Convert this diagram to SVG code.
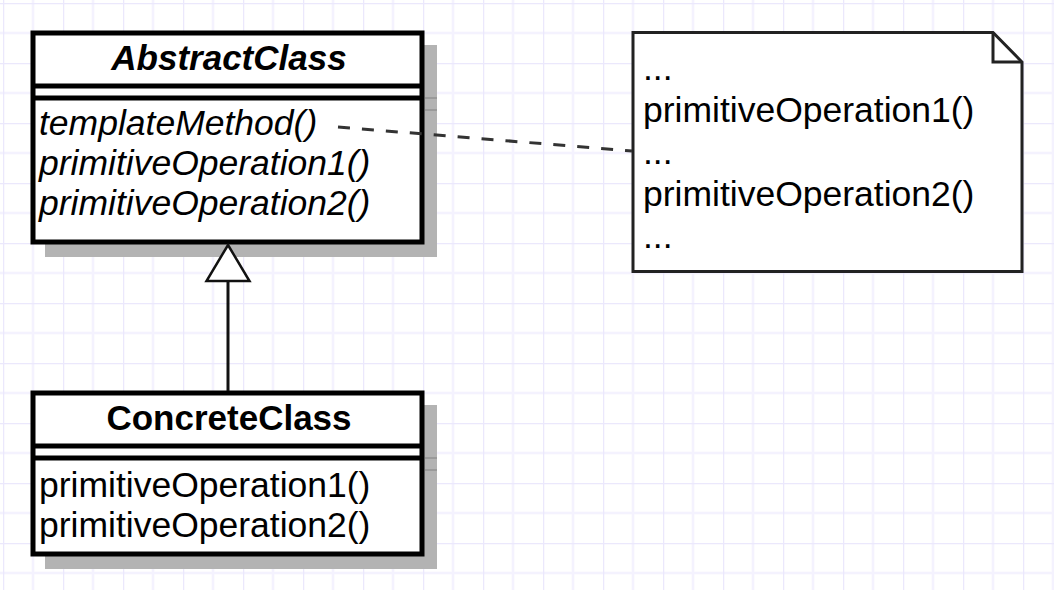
<svg xmlns="http://www.w3.org/2000/svg" width="1054" height="590" viewBox="0 0 1054 590">
<defs>
<pattern id="grid" x="3" y="3" width="60" height="60" patternUnits="userSpaceOnUse">
<rect width="60" height="60" fill="#ffffff"/>
<path d="M30 0V60M0 30H60" stroke="#f4f2fe" stroke-width="2.5" fill="none"/>
<path d="M0 0V60M0 0H60" stroke="#ebe8fc" stroke-width="2.5" fill="none" transform="translate(0,0)"/>
</pattern>
<style>
.box{fill:#ffffff;stroke:#000000;stroke-width:5}
.sep{stroke:#000000;stroke-width:5}
.shadow{fill:#b3b3b3}
.ssep{stroke:#9a9a9a;stroke-width:2}
.title{font-family:"Liberation Sans",Arial,sans-serif;font-size:35px;font-weight:bold;text-anchor:middle;fill:#000}
.op{font-family:"Liberation Sans",Arial,sans-serif;font-size:35.5px;fill:#000}
.it{font-style:italic}
.note{fill:#ffffff;stroke:#222222;stroke-width:3;stroke-linejoin:miter}
</style>
</defs>
<rect x="0" y="0" width="1054" height="590" fill="url(#grid)"/>
<g id="AbstractClass">
<rect class="shadow" x="45" y="45" width="392" height="212"/>
<line class="ssep" x1="425" y1="98" x2="437" y2="98"/>
<line class="ssep" x1="425" y1="110" x2="437" y2="110"/>
<rect class="box" x="33" y="33" width="389" height="209"/>
<line class="sep" x1="33" y1="86" x2="422" y2="86"/>
<line class="sep" x1="33" y1="98" x2="422" y2="98"/>
<text class="title it" x="229" y="70">AbstractClass</text>
<text class="op it" x="39" y="135">templateMethod()</text>
<text class="op it" x="39" y="175">primitiveOperation1()</text>
<text class="op it" x="39" y="215">primitiveOperation2()</text>
</g>
<g id="ConcreteClass">
<rect class="shadow" x="45" y="405" width="392" height="164"/>
<line class="ssep" x1="425" y1="458" x2="437" y2="458"/>
<line class="ssep" x1="425" y1="470" x2="437" y2="470"/>
<rect class="box" x="33" y="393" width="389" height="161"/>
<line class="sep" x1="33" y1="446" x2="422" y2="446"/>
<line class="sep" x1="33" y1="458" x2="422" y2="458"/>
<text class="title" x="229" y="430">ConcreteClass</text>
<text class="op" x="39" y="497">primitiveOperation1()</text>
<text class="op" x="39" y="537">primitiveOperation2()</text>
</g>
<g id="Note">
<path class="note" d="M633 32.5H993L1022 62V271.5H633Z"/>
<path d="M993 32.5V62H1022" fill="none" stroke="#222222" stroke-width="3"/>
<text class="op" x="643" y="80">...</text>
<text class="op" x="643" y="122">primitiveOperation1()</text>
<text class="op" x="643" y="164">...</text>
<text class="op" x="643" y="206">primitiveOperation2()</text>
<text class="op" x="643" y="248">...</text>
</g>
<g id="connectors">
<line x1="228" y1="281" x2="228" y2="391" stroke="#111111" stroke-width="3"/>
<path d="M228 245L249.5 281H206.5Z" fill="#ffffff" stroke="#111111" stroke-width="2.5" stroke-linejoin="miter"/>
<line x1="338" y1="127" x2="632" y2="151" stroke="#333333" stroke-width="3" stroke-dasharray="12 12"/>
</g>
</svg>
